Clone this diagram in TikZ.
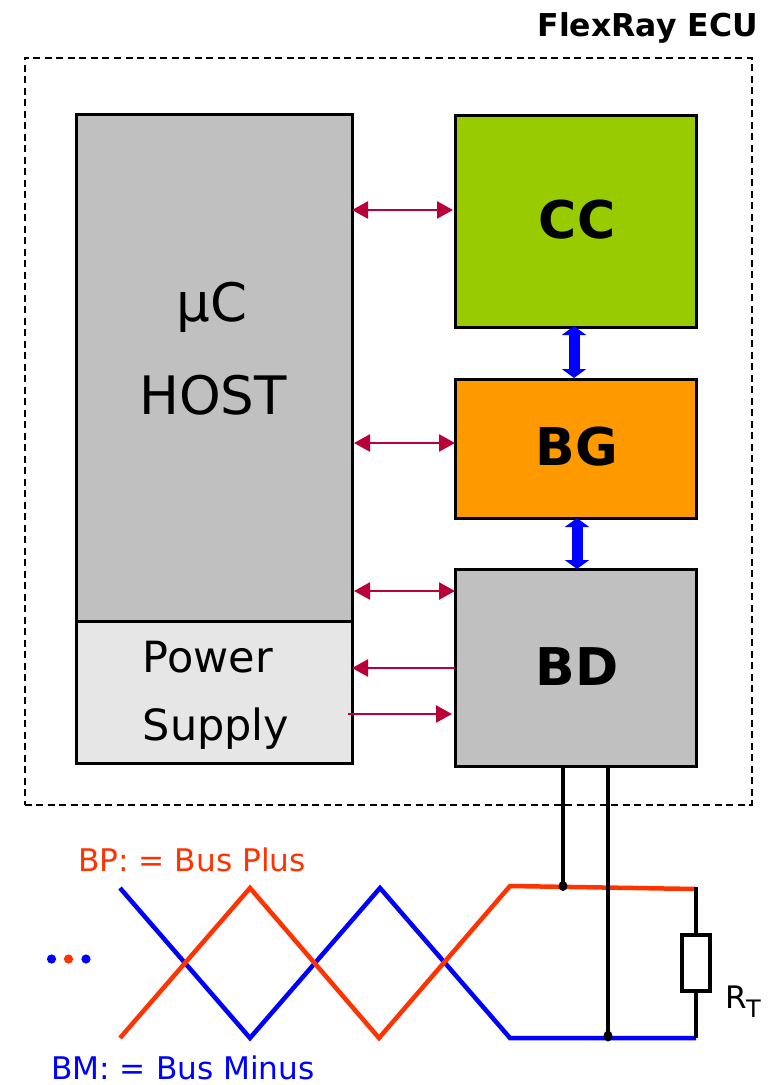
\documentclass[tikz,border=0pt]{standalone}
\usepackage{fontspec}
\setmainfont{DejaVu Sans}
\usetikzlibrary{arrows.meta}
\definecolor{hostgray}{HTML}{C0C0C0}
\definecolor{psgray}{HTML}{E6E6E6}
\definecolor{ccgreen}{HTML}{99CC00}
\definecolor{bgorange}{HTML}{FF9900}
\definecolor{sigred}{HTML}{B90038}
\definecolor{busred}{HTML}{FF3300}
\definecolor{busblue}{HTML}{0000FF}
\tikzset{
  px/.style={x=1pt,y=-1pt},
  block/.style={draw=black,line width=3pt,anchor=north west,inner sep=0pt,outer sep=0pt},
  sig/.style={draw=sigred,line width=2.5pt},
  bothtip/.style={{Triangle[length=16pt,width=17pt]}-{Triangle[length=16pt,width=17pt]}},
  endtip/.style={-{Triangle[length=16pt,width=17pt]}},
  fat/.style={draw=busblue,line width=11pt,{Triangle[length=9pt,width=24pt]}-{Triangle[length=9pt,width=24pt]}},
  wire/.style={draw=black,line width=4.2pt},
  twist/.style={line width=4.5pt,line join=miter},
  big/.style={font=\fontsize{53}{62}\selectfont,anchor=base,inner sep=0pt},
  bigb/.style={font=\fontsize{52}{62}\selectfont\bfseries,anchor=base,inner sep=0pt},
  mid/.style={font=\fontsize{43}{50}\selectfont,anchor=base,inner sep=0pt},
  small/.style={font=\fontsize{31.2}{37}\selectfont,anchor=base west,inner sep=0pt},
  joint/.style={fill=black,draw=none},
}
\begin{document}
\begin{tikzpicture}[px]
\useasboundingbox (0,0) rectangle (770,1085);
% ECU frame
\node[draw=black,dash pattern=on 7pt off 4.5pt,line width=2pt,anchor=north west,inner sep=0pt,minimum width=727pt,minimum height=747pt] (ecu) at (23.5,56.5) {};
\node[font=\fontsize{31.5}{38}\selectfont\bfseries,anchor=base east,inner sep=0pt] (ecutitle) at (758,36) {FlexRay ECU};
% Blocks
\node[block,fill=hostgray,minimum width=276pt,minimum height=507pt] (host) at (76,114) {};
\node[block,fill=psgray,minimum width=276pt,minimum height=142pt] (ps) at (76,621) {};
\node[block,fill=ccgreen,minimum width=241pt,minimum height=212pt] (cc) at (455,115) {};
\node[block,fill=bgorange,minimum width=241pt,minimum height=139pt] (bg) at (455,379) {};
\node[block,fill=hostgray,minimum width=241pt,minimum height=197pt] (bd) at (455,569) {};
% Labels
\node[big] (lmu) at (212,321) {µC};
\node[big] (lhost) at (213,414) {HOST};
\node[mid] (lpower) at (208,672) {Power};
\node[mid] (lsupply) at (216,740) {Supply};
\node[bigb] (lcc) at (577,238) {CC};
\node[bigb] (lbg) at (577,465) {BG};
\node[bigb] (lbd) at (577,685) {BD};
% Signal arrows
\draw[sig,bothtip] (host.east |- 0,210) -- ([xshift=-2pt]cc.west |- 0,210);
\draw[sig,bothtip] ([xshift=2pt]host.east |- 0,443) -- (bg.west |- 0,443);
\draw[sig,bothtip] ([xshift=2pt]host.east |- 0,591) -- (bd.west |- 0,591);
\draw[sig,endtip] (bd.west |- 0,668) -- (ps.east |- 0,668);
\draw[sig,endtip] ([xshift=-4pt]ps.east |- 0,714) -- ([xshift=-3pt]bd.west |- 0,714);
% Fat arrows
\draw[fat] (574,326) coordinate (fa) -- (574,378) coordinate (fb);
\draw[fat] (577,518) coordinate (fc) -- (577,569) coordinate (fd);
% Bus
\coordinate (bpa) at (120,1038);
\coordinate (bpb) at (250,888);
\coordinate (bpc) at (379,1038);
\coordinate (bpd) at (510,886);
\coordinate (bpe) at (696,889);
\coordinate (bma) at (120,888);
\coordinate (bmb) at (250,1038);
\coordinate (bmc) at (380,888);
\coordinate (bmd) at (510,1038);
\coordinate (bme) at (696,1038);
\draw[twist,busblue] (bma) -- (bmb) -- (bmc) -- (bmd) -- (bme);
\draw[twist,busred] (bpa) -- (bpb) -- (bpc) -- (bpd) -- (bpe);
% Stubs
\coordinate (jp) at (563,886);
\coordinate (jm) at (608,1036);
\draw[wire] (bd.south -| jp) -- (jp);
\draw[wire] (bd.south -| jm) -- (jm);
\fill[joint] (jp) ellipse (4.5pt and 5pt);
\fill[joint] (jm) ellipse (4.5pt and 5.5pt);
% Terminating resistor
\node[draw=black,line width=4.2pt,fill=white,minimum width=28pt,minimum height=56pt,inner sep=0pt] (rt) at (696,963) {};
\draw[wire] (bpe |- 0,887) -- (rt.north);
\draw[wire] (rt.south) -- (bme);
\node[small,font=\fontsize{31}{37}\selectfont] (lrt) at (725,1008) {R};
\node[small,font=\fontsize{24}{28}\selectfont] (lrtsub) at (746,1017) {T};
% Dots
\fill[busblue] (51.5,959) circle (4.6pt);
\fill[busred] (68.5,959) circle (4.6pt);
\fill[busblue] (86,959) circle (4.6pt);
% Legends
\node[small,text=busred] (lbp) at (78,871) {BP: = Bus Plus};
\node[small,text=busblue] (lbm) at (51,1079) {BM: = Bus Minus};
\end{tikzpicture}
\end{document}
